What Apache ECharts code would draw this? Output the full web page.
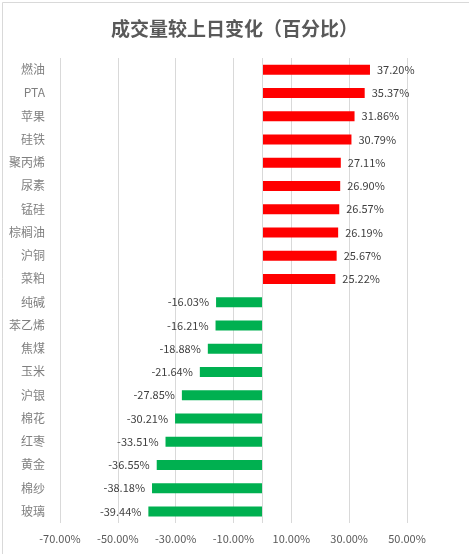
<!DOCTYPE html>
<html>
<head>
<meta charset="utf-8">
<script src="https://cdn.jsdelivr.net/npm/echarts@6/dist/echarts.min.js"></script>
<style>
html,body{margin:0;padding:0;background:#fff;}
#c{width:469px;height:554px;}
</style>
</head>
<body>
<div id="c"></div>
<script>
const titleText = '成交量较上日变化（百分比）';
const categories = ['燃油','PTA','苹果','硅铁','聚丙烯','尿素','锰硅','棕榈油','沪铜','菜粕','纯碱','苯乙烯','焦煤','玉米','沪银','棉花','红枣','黄金','棉纱','玻璃'];
const changes = [37.20,35.37,31.86,30.79,27.11,26.90,26.57,26.19,25.67,25.22,-16.03,-16.21,-18.88,-21.64,-27.85,-30.21,-33.51,-36.55,-38.18,-39.44];
const axisMin = -70, axisMax = 50, axisStep = 20;

const chart = echarts.init(document.getElementById('c'));
const fontFam = '"Noto Sans CJK SC","Noto Sans",sans-serif';
chart.setOption({
  animation: false,
  backgroundColor: '#fff',
  graphic: [{
    type: 'rect', left: 0, top: 0, silent: true,
    shape: {x: 0.5, y: 0.5, width: 468, height: 553},
    style: {fill: 'none', stroke: '#d9d9d9', lineWidth: 1}
  }],
  title: {
    text: titleText, left: 'center', top: 14,
    textStyle: {fontSize: 19, fontWeight: 'bold', color: '#595959', fontFamily: fontFam}
  },
  grid: {left: 60, right: 62, top: 58, bottom: 31, containLabel: false},
  xAxis: {
    type: 'value', min: axisMin, max: axisMax, interval: axisStep,
    axisLine: {show: false}, axisTick: {show: false},
    splitLine: {show: true, lineStyle: {color: '#d9d9d9', width: 1}},
    axisLabel: {
      formatter: v => v.toFixed(2) + '%', color: '#595959', fontSize: 11,
      fontFamily: fontFam, margin: 10
    }
  },
  yAxis: {
    type: 'category', data: categories, inverse: true,
    axisLine: {show: false, onZero: false}, axisTick: {show: false},
    splitLine: {show: false},
    axisLabel: {color: '#7f7f7f', fontSize: 12, margin: 15, fontFamily: fontFam}
  },
  series: [{
    type: 'bar', barWidth: 10,
    data: changes.map(v => ({
      value: v,
      itemStyle: {color: v >= 0 ? '#ff0000' : '#00b050'},
      label: {position: v >= 0 ? 'right' : 'left'}
    })),
    label: {
      show: true, distance: 7, color: '#404040', fontSize: 11, fontFamily: fontFam,
      formatter: p => p.value.toFixed(2) + '%'
    },
    markLine: {
      silent: true, symbol: 'none', label: {show: false},
      lineStyle: {color: '#d9d9d9', type: 'solid', width: 1},
      data: [{xAxis: 0}]
    }
  }]
});
</script>
</body>
</html>
